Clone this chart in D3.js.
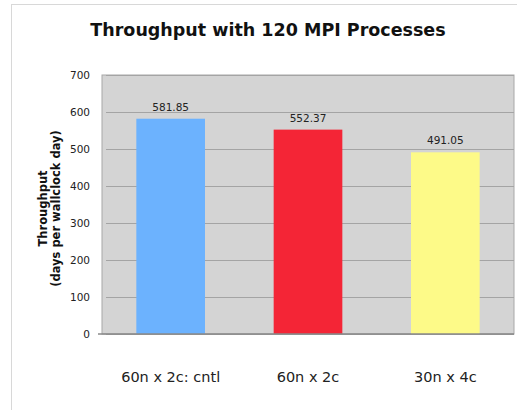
<!DOCTYPE html>
<html><head><meta charset="utf-8">
<script src="https://cdn.jsdelivr.net/npm/d3@7"></script>
<style>body{margin:0;background:#fff;}svg{display:block;}</style>
</head><body>
<script>
const categories = ["60n x 2c: cntl", "60n x 2c", "30n x 4c"];
const values = [581.85, 552.37, 491.05];
const colors = ["#6cb2fe", "#f42536", "#fdfa88"];
const yTicks = [0, 100, 200, 300, 400, 500, 600, 700];
const title = "Throughput with 120 MPI Processes";
const yTitle = ["Throughput", "(days per wallclock day)"];

const W = 517, H = 410;
const F = "Verdana, DejaVu Sans, sans-serif";
const svg = d3.select("body").append("svg").attr("width", W).attr("height", H);
svg.append("rect").attr("x", 11.5).attr("y", 4.5).attr("width", 520).attr("height", 420)
  .attr("fill", "#fff").attr("stroke", "#d8d8d8");

const m = {l: 102, r: 514, t: 75, b: 334};
const x = d3.scaleBand().domain(categories).range([m.l, m.r]).paddingInner(0.5).paddingOuter(0.25);
const y = d3.scaleLinear().domain([0, 700]).range([m.b, m.t]);

svg.append("rect").attr("x", m.l).attr("y", m.t).attr("width", m.r - m.l).attr("height", m.b - m.t)
  .attr("fill", "#d4d4d4").attr("stroke", "#a8a8a8");

const ya = svg.append("g").attr("transform", `translate(${m.l},0)`)
  .call(d3.axisLeft(y).tickValues(yTicks).tickSize(-(m.r - m.l)).tickPadding(12));
ya.select(".domain").remove();
ya.selectAll(".tick line").attr("stroke", "#a4a4a4").attr("stroke-width", 1.2).attr("x1", 4);
ya.selectAll("text").attr("font-family", F).attr("font-size", 10.5).attr("fill", "#222");

svg.append("g").selectAll("rect").data(values).join("rect")
  .attr("x", (d, i) => x(categories[i])).attr("width", x.bandwidth())
  .attr("y", d => y(d)).attr("height", d => y(0) - y(d))
  .attr("fill", (d, i) => colors[i]);

svg.append("line").attr("x1", m.l - 4).attr("x2", m.r).attr("y1", m.b).attr("y2", m.b)
  .attr("stroke", "#8a8a8a").attr("stroke-width", 1.5);

svg.append("g").selectAll("text").data(values).join("text")
  .attr("x", (d, i) => x(categories[i]) + x.bandwidth() / 2).attr("y", d => y(d) - 8)
  .attr("text-anchor", "middle").attr("font-family", F)
  .attr("font-size", 10.5).attr("fill", "#222").text(d => d.toFixed(2));

svg.append("g").selectAll("text").data(categories).join("text")
  .attr("x", d => x(d) + x.bandwidth() / 2).attr("y", 382)
  .attr("text-anchor", "middle").attr("font-family", F)
  .attr("font-size", 14.5).attr("fill", "#222").text(d => d);

svg.append("text").attr("x", 268).attr("y", 36).attr("text-anchor", "middle")
  .attr("font-family", F).attr("font-weight", "bold")
  .attr("font-size", 17.5).attr("fill", "#111").text(title);

const yt = svg.append("text").attr("transform", `translate(47,${(m.t + m.b) / 2 + 4}) rotate(-90)`)
  .attr("text-anchor", "middle").attr("font-family", F)
  .attr("font-weight", "bold").attr("font-size", 11.5).attr("fill", "#111");
yt.selectAll("tspan").data(yTitle).join("tspan").attr("x", 0).attr("dy", (d, i) => i ? 13 : 0).text(d => d);
</script>
</body></html>
